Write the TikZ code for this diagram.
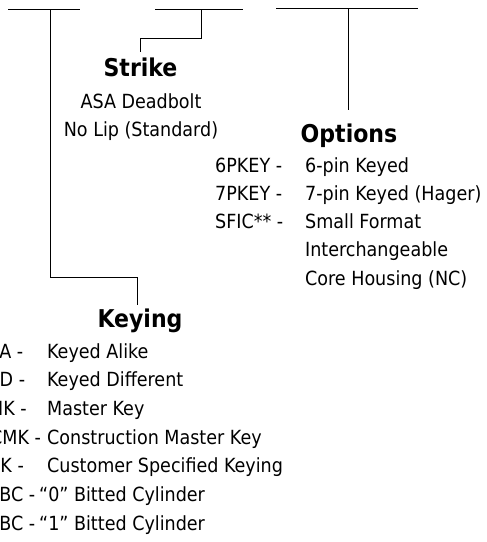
\documentclass[tikz,border=0pt]{standalone}
\usepackage{fontspec}
\setmainfont{DejaVu Sans Condensed}
\begin{document}
\begin{tikzpicture}[x=1pt,y=-1pt,
  wire/.style={line width=0.9pt, black},
  txt/.style={inner sep=0pt, anchor=base west, font=\fontsize{19.5}{21}\selectfont},
  head/.style={inner sep=0pt, anchor=base, font=\fontsize{24.5}{27}\selectfont\bfseries}]
\useasboundingbox (0,0) rectangle (487,542);
\clip (0,0) rectangle (487,542);
% blank fields
\coordinate (f1a) at (8,9);   \coordinate (f1b) at (80,9);
\coordinate (f2a) at (155,9); \coordinate (f2b) at (243,9);
\coordinate (f3a) at (276,8); \coordinate (f3b) at (418,8);
\draw[wire] (f1a) -- (f1b);
\draw[wire] (f2a) -- (f2b);
\draw[wire] (f3a) -- (f3b);
% Strike
\node[head] (strike) at (140.5,76) {Strike};
\node[txt, anchor=base] (s1) at (141,108) {ASA Deadbolt};
\node[txt, anchor=base] (s2) at (141,136) {No Lip (Standard)};
\coordinate (st0) at (201,9);
\coordinate (st1) at (201,38);
\coordinate (st2) at (140,38);
\coordinate (st3) at (140,52);
\draw[wire] (st0) -- (st1) -- (st2) -- (st3);
% Options
\node[head] (options) at (349,142) {Options};
\coordinate (op0) at (348,8);
\coordinate (op1) at (348,110);
\draw[wire] (op0) -- (op1);
\node[txt] (o1c) at (215,172.5) {6PKEY -};
\node[txt] (o1d) at (305,172.5) {6-pin Keyed};
\node[txt] (o2c) at (215,200.6) {7PKEY -};
\node[txt] (o2d) at (305,200.6) {7-pin Keyed (Hager)};
\node[txt] (o3c) at (215,228.7) {SFIC** -};
\node[txt] (o3d) at (305,228.7) {Small Format};
\node[txt] (o4d) at (305,256.8) {Interchangeable};
\node[txt] (o5d) at (305,285) {Core Housing (NC)};
% Keying
\node[head] (keying) at (140,327) {Keying};
\coordinate (k0) at (50,9);
\coordinate (k1) at (50,277);
\coordinate (k2) at (137.5,277);
\coordinate (k3) at (137.5,305);
\draw[wire] (k0) -- (k1) -- (k2) -- (k3);
\node[txt] (k1c) at (-12,358) {KA -};
\node[txt] (k1d) at (47,358) {Keyed Alike};
\node[txt] (k2c) at (-12,386.7) {KD -};
\node[txt] (k2d) at (47,386.7) {Keyed Different};
\node[txt] (k3c) at (-12,415.4) {MK -};
\node[txt] (k3d) at (47,415.4) {Master Key};
\node[txt] (k4c) at (-10,444) {CMK -};
\node[txt] (k4d) at (47,444) {Construction Master Key};
\node[txt] (k5c) at (-12,472.8) {CK -};
\node[txt] (k5d) at (47,472.8) {Customer Specified Keying};
\node[txt] (k6c) at (-12,501.5) {0BC -};
\node[txt] (k6d) at (39,501.5) {“0” Bitted Cylinder};
\node[txt] (k7c) at (-12,530) {1BC -};
\node[txt] (k7d) at (39,530) {“1” Bitted Cylinder};
\end{tikzpicture}
\end{document}
